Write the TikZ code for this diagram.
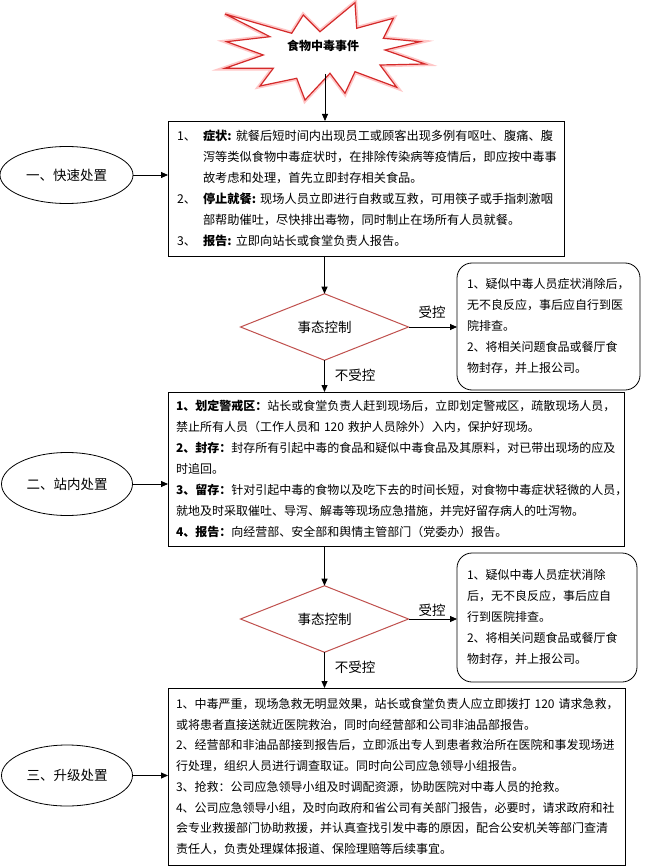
\documentclass[tikz,border=0pt]{standalone}
\usepackage{fontspec}
\setmainfont{Noto Sans CJK SC}
\usetikzlibrary{shapes.geometric,arrows.meta}
\definecolor{dred}{HTML}{C0504D}
\definecolor{bred}{HTML}{D42A2A}
\begin{document}
\begin{tikzpicture}[x=1pt,y=-1pt,
  every node/.style={inner sep=0pt, outer sep=0pt},
  box/.style={draw, line width=0.8pt, rectangle, inner xsep=8pt, inner ysep=0pt, align=left, font=\fontsize{12}{21}\selectfont},
  rbox/.style={draw, line width=0.8pt, rectangle, rounded corners=15pt, inner xsep=10pt, inner ysep=0pt, align=left, font=\fontsize{12}{21}\selectfont},
  oval/.style={draw, ellipse, line width=0.8pt, font=\fontsize{13.5}{16}\selectfont},
  dia/.style={draw=dred, diamond, line width=1pt, font=\fontsize{13.5}{16}\selectfont},
  arr/.style={draw, line width=0.8pt, -{Triangle[length=7pt,width=6pt]}},
  lbl/.style={font=\fontsize{13.5}{16}\selectfont}
]
\useasboundingbox (0,0) rectangle (649,866);
\fill[white] (0,0) rectangle (649,866);

% starburst
\draw[fill=white, draw=bred, line width=1.2pt, line join=miter,
      preaction={draw=red!22, line width=4.5pt}]
  (225,14) -- (291.7,33.3) -- (303.3,15) -- (320,31.7) -- (355,2.7) -- (356.7,28.3)
  -- (393.3,18.3) -- (383.3,38.3) -- (420,41.7) -- (385,50) -- (425,64) -- (380,65)
  -- (396.7,87.3) -- (355,71.7) -- (345,93.3) -- (330,73.3) -- (305,100) -- (296.7,78.3)
  -- (260,86) -- (273.3,68.3) -- (225,68.3) -- (263.3,55) -- (226.7,41.7) -- (270,36.7) -- cycle;
\node[font=\bfseries\fontsize{12}{14}\selectfont] (burst) at (323,46) {食物中毒事件};
\coordinate (burstbot) at (325,74);

% boxes
\node[box, inner xsep=9pt, font=\fontsize{12.2}{21}\selectfont, minimum width=396, minimum height=135, text width=378] (box1) at (366,188.5) {%
\makebox[26pt][l]{1、}{\bfseries 症状:}~就餐后短时间内出现员工或顾客出现多例有呕吐、腹痛、腹\\
\hspace*{26pt}泻等类似食物中毒症状时，在排除传染病等疫情后，即应按中毒事\\
\hspace*{26pt}故考虑和处理，首先立即封存相关食品。\\
\makebox[26pt][l]{2、}{\bfseries 停止就餐:}~现场人员立即进行自救或互救，可用筷子或手指刺激咽\\
\hspace*{26pt}部帮助催吐，尽快排出毒物，同时制止在场所有人员就餐。\\
\makebox[26pt][l]{3、}{\bfseries 报告:}~立即向站长或食堂负责人报告。};

\node[box, minimum width=456, minimum height=154, text width=440] (box2) at (396,469) {%
{\bfseries 1、划定警戒区：}站长或食堂负责人赶到现场后，立即划定警戒区，疏散现场人员，\\
禁止所有人员（工作人员和~120~救护人员除外）入内，保护好现场。\\
{\bfseries 2、封存：}封存所有引起中毒的食品和疑似中毒食品及其原料，对已带出现场的应及\\
时追回。\\
{\bfseries 3、留存：}针对引起中毒的食物以及吃下去的时间长短，对食物中毒症状轻微的人员，\\
就地及时采取催吐、导泻、解毒等现场应急措施，并完好留存病人的吐泻物。\\
{\bfseries 4、报告：}向经营部、安全部和舆情主管部门（党委办）报告。};

\node[box, font=\fontsize{12}{20.7}\selectfont, minimum width=457, minimum height=177, text width=441] (box3) at (396.5,776.5) {%
1、中毒严重，现场急救无明显效果，站长或食堂负责人应立即拨打~120~请求急救，\\
或将患者直接送就近医院救治，同时向经营部和公司非油品部报告。\\
2、经营部和非油品部接到报告后，立即派出专人到患者救治所在医院和事发现场进\\
行处理，组织人员进行调查取证。同时向公司应急领导小组报告。\\
3、抢救：公司应急领导小组及时调配资源，协助医院对中毒人员的抢救。\\
4、公司应急领导小组，及时向政府和省公司有关部门报告，必要时，请求政府和社\\
会专业救援部门协助救援，并认真查找引发中毒的原因，配合公安机关等部门查清\\
责任人，负责处理媒体报道、保险理赔等后续事宜。};

% right rounded boxes
\node[rbox, minimum width=183, minimum height=127, text width=163] (rbox1) at (548.5,326.5) {%
1、疑似中毒人员症状消除后，\\
无不良反应，事后应自行到医\\
院排查。\\
2、将相关问题食品或餐厅食\\
物封存，并上报公司。};

\node[rbox, minimum width=180, minimum height=129, text width=160] (rbox2) at (547,617.5) {%
1、疑似中毒人员症状消除\\
后，无不良反应，事后应自\\
行到医院排查。\\
2、将相关问题食品或餐厅食\\
物封存，并上报公司。};

% ovals
\node[oval, minimum width=133, minimum height=57] (oval1) at (66.5,175) {一、快速处置};
\node[oval, minimum width=131, minimum height=63] (oval2) at (67,484) {二、站内处置};
\node[oval, minimum width=131, minimum height=61] (oval3) at (67,775.5) {三、升级处置};

% diamonds
\node[dia, minimum width=168, minimum height=61] (d1) at (324.5,327) {事态控制};
\node[dia, minimum width=168, minimum height=62] (d2) at (324.5,619) {事态控制};

% labels
\node[lbl] (k1) at (432,312) {受控};
\node[lbl] (n1) at (355,375) {不受控};
\node[lbl] (k2) at (432,610) {受控};
\node[lbl] (n2) at (355,667) {不受控};

% connectors
\draw[arr] (burstbot) -- (burstbot |- box1.north);
\draw[arr] (oval1.east) -- (oval1.east -| box1.west);
\draw[arr] (box1.south -| d1.north) -- (d1.north);
\draw[arr] (d1.east) -- (d1.east -| rbox1.west);
\draw[arr] (d1.south) -- (d1.south |- box2.north);
\draw[arr] (oval2.east) -- (oval2.east -| box2.west);
\draw[arr] (box2.south -| d2.north) -- (d2.north);
\draw[arr] (d2.east) -- (d2.east -| rbox2.west);
\draw[arr] (d2.south) -- (d2.south |- box3.north);
\draw[arr] (oval3.east) -- (oval3.east -| box3.west);
\end{tikzpicture}
\end{document}
